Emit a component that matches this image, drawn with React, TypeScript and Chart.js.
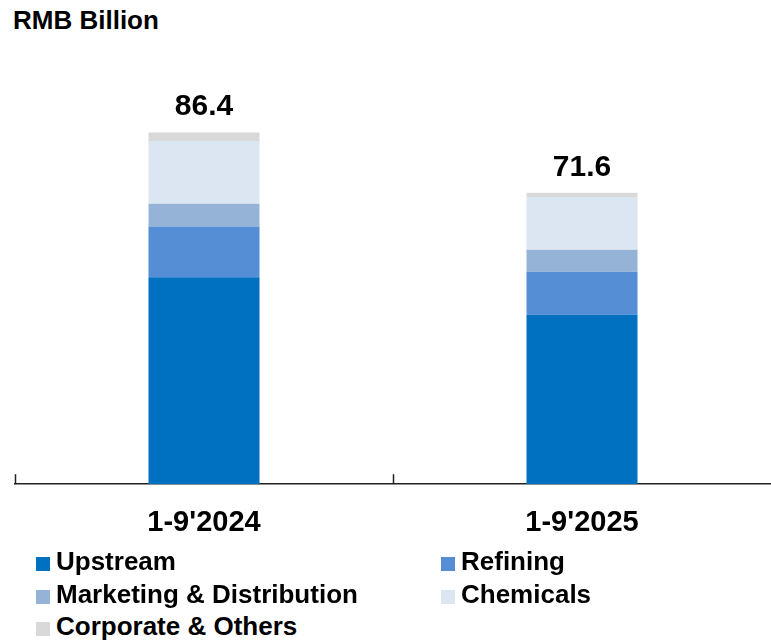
import React, { useEffect, useRef } from "react";
import { Chart, registerables } from "chart.js";

Chart.register(...registerables);

const categories = ["1-9'2024", "1-9'2025"];
const upstream = [50.8, 41.6];
const refining = [12.5, 10.6];
const marketing = [5.6, 5.4];
const chemicals = [15.4, 12.9];
const corporate = [2.1, 1.1];

const seriesNames = [
  "Upstream",
  "Refining",
  "Marketing & Distribution",
  "Chemicals",
  "Corporate & Others",
];
const seriesColors = ["#0070C0", "#558ED5", "#95B3D7", "#DCE6F2", "#D9D9D9"];
const seriesValues = [upstream, refining, marketing, chemicals, corporate];

const FONT = "'Liberation Sans', Arial, sans-serif";

const totalsPlugin = {
  id: "totals",
  afterDatasetsDraw(chart: any) {
    const ctx = chart.ctx;
    const n = chart.data.datasets.length;
    const meta = chart.getDatasetMeta(n - 1);
    ctx.save();
    ctx.font = `bold 30px ${FONT}`;
    ctx.fillStyle = "#000";
    ctx.textAlign = "center";
    ctx.textBaseline = "alphabetic";
    categories.forEach((_, i) => {
      const total = seriesValues.reduce((s, arr) => s + arr[i], 0);
      const el = meta.data[i];
      ctx.fillText(total.toFixed(1), el.x, el.y - 17);
    });
    ctx.restore();
  },
};

const tickMarksPlugin = {
  id: "tickMarks",
  afterDraw(chart: any) {
    const ctx = chart.ctx;
    const xs = chart.scales.x;
    const catW = xs.width / categories.length;
    const bottom = chart.chartArea.bottom;
    ctx.save();
    ctx.strokeStyle = "#222";
    ctx.lineWidth = 1.5;
    for (let i = 0; i < categories.length; i++) {
      const x = Math.round(xs.getPixelForValue(i) - catW / 2) + 0.5;
      ctx.beginPath();
      ctx.moveTo(x, bottom - 10);
      ctx.lineTo(x, bottom);
      ctx.stroke();
    }
    ctx.restore();
  },
};

export default function App() {
  const canvasRef = useRef<HTMLCanvasElement>(null);

  useEffect(() => {
    if (!canvasRef.current) return;
    const chart = new Chart(canvasRef.current, {
      type: "bar",
      data: {
        labels: categories,
        datasets: seriesNames.map((name, k) => ({
          label: name,
          data: seriesValues[k],
          backgroundColor: seriesColors[k],
          borderWidth: 0,
          barPercentage: 0.2937,
          categoryPercentage: 1,
        })),
      },
      options: {
        animation: false,
        responsive: true,
        maintainAspectRatio: false,
        layout: { padding: { top: 77, left: 15, right: 0, bottom: 0 } },
        plugins: {
          legend: { display: false },
          tooltip: { enabled: false },
          title: { display: false },
        },
        scales: {
          x: {
            stacked: true,
            grid: { display: false, drawTicks: false },
            border: { display: true, color: "#222", width: 1.5 },
            ticks: {
              color: "#000",
              padding: 21,
              font: { family: FONT, size: 29, weight: "bold" },
            },
          },
          y: {
            stacked: true,
            display: false,
            min: 0,
            max: 100,
          },
        },
      },
      plugins: [totalsPlugin, tickMarksPlugin],
    });
    return () => chart.destroy();
  }, []);

  const colX = [36, 441];
  const rowTop = [545, 577.5, 610];

  return (
    <div
      style={{
        position: "absolute",
        left: 0,
        top: 0,
        width: 771,
        height: 642,
        background: "#fff",
        fontFamily: FONT,
        overflow: "hidden",
      }}
    >
      <div
        style={{
          position: "absolute",
          left: 13,
          top: 7,
          fontSize: 26,
          fontWeight: "bold",
          lineHeight: 1,
          color: "#000",
          whiteSpace: "nowrap",
        }}
      >
        RMB Billion
      </div>
      <div style={{ position: "absolute", left: 0, top: 0, width: 771, height: 561 }}>
        <canvas ref={canvasRef} />
      </div>
      {seriesNames.map((name, k) => (
        <div
          key={name}
          style={{
            position: "absolute",
            left: colX[k % 2],
            top: rowTop[Math.floor(k / 2)],
            height: 32.5,
            lineHeight: "32.5px",
            fontSize: 26,
            fontWeight: "bold",
            color: "#000",
            whiteSpace: "nowrap",
          }}
        >
          <span
            style={{
              position: "absolute",
              left: 0,
              top: 12,
              width: 14,
              height: 14,
              background: seriesColors[k],
            }}
          />
          <span style={{ position: "absolute", left: 20, top: 0 }}>{name}</span>
        </div>
      ))}
    </div>
  );
}
